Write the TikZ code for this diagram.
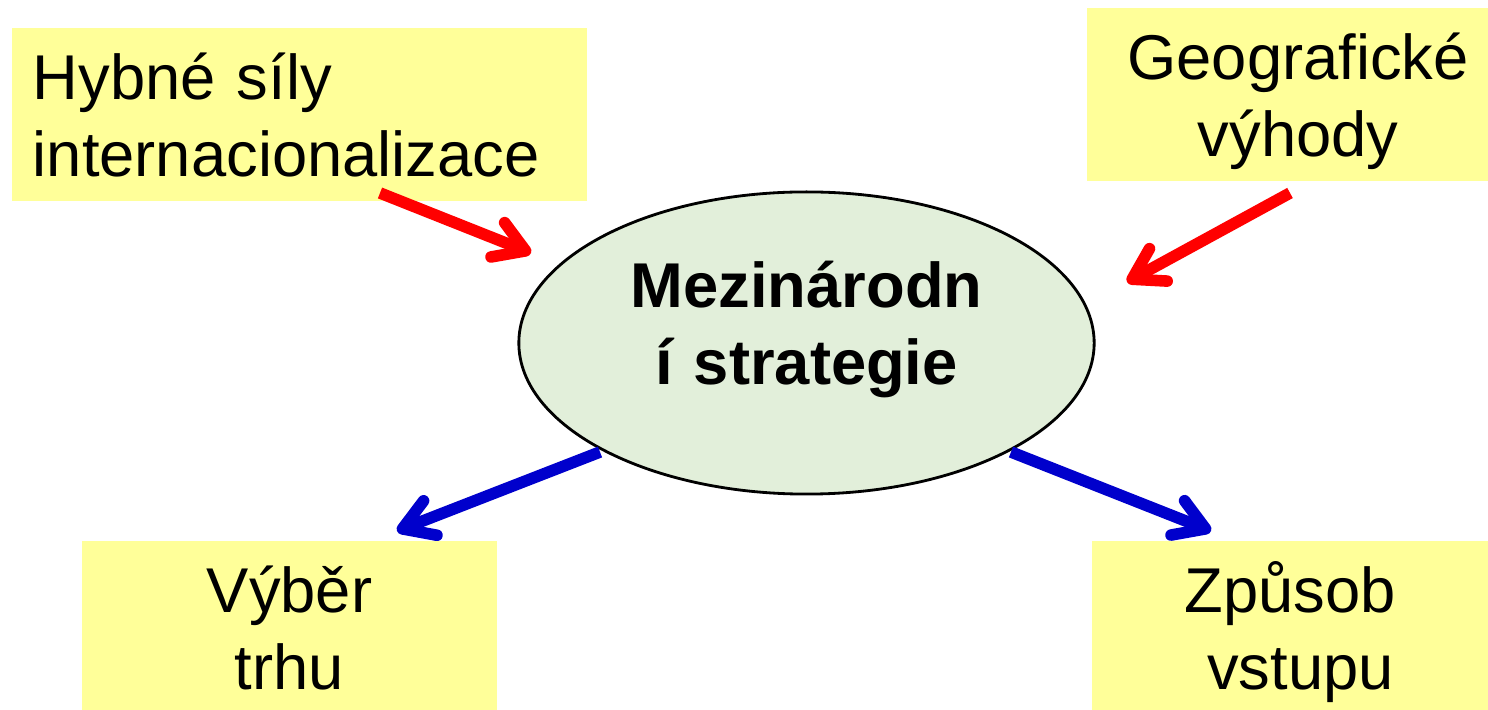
\documentclass[tikz,border=0pt]{standalone}
\usepackage{fontspec}
\setmainfont{Liberation Sans}
\usetikzlibrary{shapes.geometric,arrows.meta}
\definecolor{boxyellow}{RGB}{255,255,153}
\definecolor{ellgreen}{RGB}{226,239,218}
\definecolor{arrred}{RGB}{255,0,0}
\definecolor{arrblue}{RGB}{0,0,204}
\tikzset{
  ybox/.style={rectangle, fill=boxyellow, draw=none, inner ysep=0pt,
    font=\fontsize{18}{21.8}\selectfont, text height=0.72cm},
  centerell/.style={ellipse, fill=ellgreen, draw=black, line width=0.8pt,
    inner sep=0pt, minimum width=5.75cm, minimum height=3.02cm,
    text width=3.6cm, align=center, text height=0.40cm, text depth=1.10cm,
    font=\fontsize{18}{21.8}\selectfont\bfseries},
  arrowline/.style={line width=3.3pt,
    -{Straight Barb[length=8.5pt, width=10.5pt, round]}},
  redarrow/.style={arrowline, draw=arrred},
  bluearrow/.style={arrowline, draw=arrblue},
}
\begin{document}
\begin{tikzpicture}[x=0.01cm, y=-0.01cm]
\useasboundingbox (0,0) rectangle (1488,710);
\fill[white] (0,0) rectangle (1488,710);
% boxes
\node[ybox, inner xsep=0.21cm, text width=5.33cm, align=left, text depth=1.01cm]
  (hybne) at (299.5,114.5) {Hybné síly\\internacionalizace};
\node[ybox, inner xsep=0pt, text width=4.01cm, align=center, text depth=1.01cm]
  (geo) at (1287.5,94.5) {\mbox{ }Geografické\\\mbox{ }výhody};
\node[ybox, inner xsep=0pt, text width=4.15cm, align=center, text depth=0.97cm]
  (vyber) at (289.5,625.5) {Výběr\\trhu};
\node[ybox, inner xsep=0pt, text width=3.96cm, align=center, text depth=0.97cm]
  (zpusob) at (1290,625.5) {Způsob\\\mbox{ }vstupu};
% central ellipse
\node[centerell] (strat) at (806.5,343) {Mezinárodn\\í strategie};
% arrow end points
\coordinate (r1s) at (380,193);
\coordinate (r1e) at (531,253);
\coordinate (r2s) at (1290,193);
\coordinate (r2e) at (1127,282);
\coordinate (b1s) at (600,452);
\coordinate (b1e) at (397,531);
\coordinate (b2s) at (1011,452);
\coordinate (b2e) at (1211,531);
\draw[redarrow] (r1s) -- (r1e);
\draw[redarrow] (r2s) -- (r2e);
\draw[bluearrow] (b1s) -- (b1e);
\draw[bluearrow] (b2s) -- (b2e);
\end{tikzpicture}
\end{document}
